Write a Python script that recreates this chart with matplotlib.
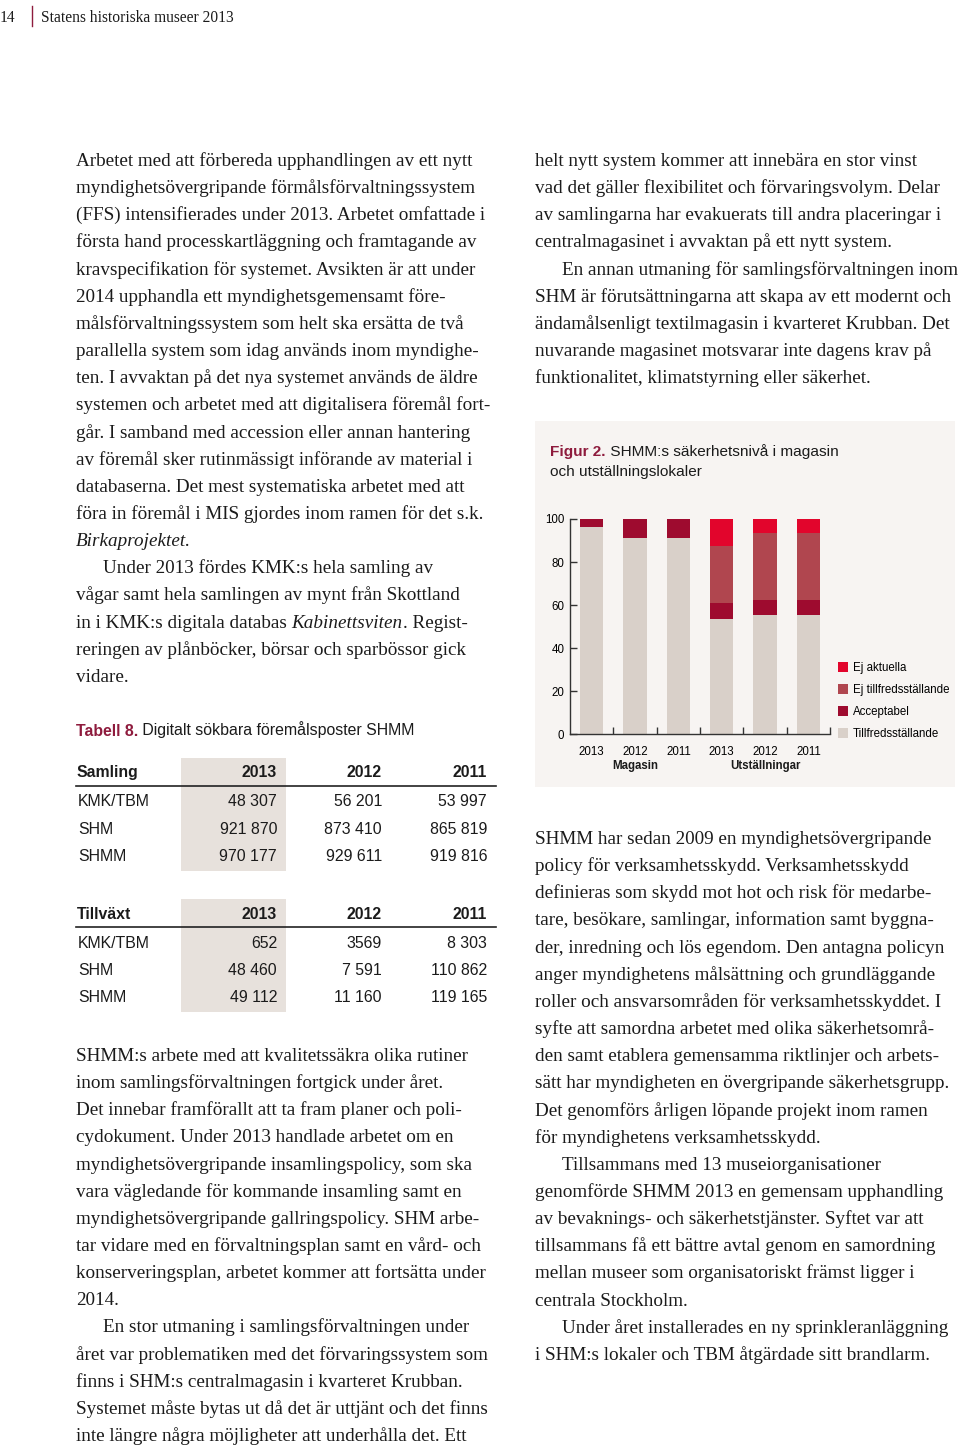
import matplotlib
matplotlib.use("Agg")
import matplotlib.pyplot as plt
from matplotlib.patches import Rectangle

# --- chart data, percent of premises ---
bar_years = ["2013", "2012", "2011", "2013", "2012", "2011"]
groups = ["Magasin", "Utställningar"]
tillfreds = [96.4, 91.3, 91.3, 53.5, 55.4, 55.4]
acceptabel = [3.6, 8.7, 8.7, 7.3, 7.0, 7.0]
ej_tillfreds = [0.0, 0.0, 0.0, 26.5, 31.2, 31.2]
ej_aktuella = [0.0, 0.0, 0.0, 12.7, 6.4, 6.4]
series_names = ["Tillfredsställande", "Acceptabel", "Ej tillfredsställande", "Ej aktuella"]
series_colors = ["#d9d0c9", "#9e0b2f", "#b0464f", "#e2052c"]

# --- table 8 data ---
table_years = ["2013", "2012", "2011"]
table_rows = ["KMK/TBM", "SHM", "SHMM"]
samling = [["48 307", "56 201", "53 997"],
           ["921 870", "873 410", "865 819"],
           ["970 177", "929 611", "919 816"]]
tillvaxt = [["652", "3569", "8 303"],
            ["48 460", "7 591", "110 862"],
            ["49 112", "11 160", "119 165"]]

# --- body text (">" = paragraph indent, _ = italic) ---
left_top = [
    "Arbetet med att förbereda upphandlingen av ett nytt",
    "myndighetsövergripande förmålsförvaltningssystem",
    "(FFS) intensifierades under 2013. Arbetet omfattade i",
    "första hand processkartläggning och framtagande av",
    "kravspecifikation för systemet. Avsikten är att under",
    "2014 upphandla ett myndighetsgemensamt före-",
    "målsförvaltningssystem som helt ska ersätta de två",
    "parallella system som idag används inom myndighe-",
    "ten. I avvaktan på det nya systemet används de äldre",
    "systemen och arbetet med att digitalisera föremål fort-",
    "går. I samband med accession eller annan hantering",
    "av föremål sker rutinmässigt införande av material i",
    "databaserna. Det mest systematiska arbetet med att",
    "föra in föremål i MIS gjordes inom ramen för det s.k.",
    "_Birkaprojektet._",
    ">Under 2013 fördes KMK:s hela samling av",
    "vågar samt hela samlingen av mynt från Skottland",
    "in i KMK:s digitala databas _Kabinettsviten_. Regist-",
    "reringen av plånböcker, börsar och sparbössor gick",
    "vidare.",
]
left_bottom = [
    "SHMM:s arbete med att kvalitetssäkra olika rutiner",
    "inom samlingsförvaltningen fortgick under året.",
    "Det innebar framförallt att ta fram planer och poli-",
    "cydokument. Under 2013 handlade arbetet om en",
    "myndighetsövergripande insamlingspolicy, som ska",
    "vara vägledande för kommande insamling samt en",
    "myndighetsövergripande gallringspolicy. SHM arbe-",
    "tar vidare med en förvaltningsplan samt en vård- och",
    "konserveringsplan, arbetet kommer att fortsätta under",
    "2014.",
    ">En stor utmaning i samlingsförvaltningen under",
    "året var problematiken med det förvaringssystem som",
    "finns i SHM:s centralmagasin i kvarteret Krubban.",
    "Systemet måste bytas ut då det är uttjänt och det finns",
    "inte längre några möjligheter att underhålla det. Ett",
]
right_top = [
    "helt nytt system kommer att innebära en stor vinst",
    "vad det gäller flexibilitet och förvaringsvolym. Delar",
    "av samlingarna har evakuerats till andra placeringar i",
    "centralmagasinet i avvaktan på ett nytt system.",
    ">En annan utmaning för samlingsförvaltningen inom",
    "SHM är förutsättningarna att skapa av ett modernt och",
    "ändamålsenligt textilmagasin i kvarteret Krubban. Det",
    "nuvarande magasinet motsvarar inte dagens krav på",
    "funktionalitet, klimatstyrning eller säkerhet.",
]
right_bottom = [
    "SHMM har sedan 2009 en myndighetsövergripande",
    "policy för verksamhetsskydd. Verksamhetsskydd",
    "definieras som skydd mot hot och risk för medarbe-",
    "tare, besökare, samlingar, information samt byggna-",
    "der, inredning och lös egendom. Den antagna policyn",
    "anger myndighetens målsättning och grundläggande",
    "roller och ansvarsområden för verksamhetsskyddet. I",
    "syfte att samordna arbetet med olika säkerhetsområ-",
    "den samt etablera gemensamma riktlinjer och arbets-",
    "sätt har myndigheten en övergripande säkerhetsgrupp.",
    "Det genomförs årligen löpande projekt inom ramen",
    "för myndighetens verksamhetsskydd.",
    ">Tillsammans med 13 museiorganisationer",
    "genomförde SHMM 2013 en gemensam upphandling",
    "av bevaknings- och säkerhetstjänster. Syftet var att",
    "tillsammans få ett bättre avtal genom en samordning",
    "mellan museer som organisatoriskt främst ligger i",
    "centrala Stockholm.",
    ">Under året installerades en ny sprinkleranläggning",
    "i SHM:s lokaler och TBM åtgärdade sitt brandlarm.",
]

SERIF = "Liberation Serif"
SANS = "Liberation Sans"
MAROON = "#8e1b3d"
INK = "#1b1b1b"
BODY = 13.75
TAB = 11.4

fig = plt.figure(figsize=(9.6, 14.48), dpi=100)
page = fig.add_axes([0, 0, 1, 1])
page.set_xlim(0, 960)
page.set_ylim(1448, 0)
page.axis("off")


def put_line(x, y, line, size=BODY):
    parts = line.split("_")
    prev = None
    for i, part in enumerate(parts):
        if not part:
            continue
        style = "italic" if i % 2 else "normal"
        if prev is None:
            prev = page.text(x, y, part, family=SERIF, style=style, size=size,
                             color=INK, va="baseline", ha="left")
        else:
            prev = page.annotate(part, xy=(1, 0), xycoords=prev, family=SERIF,
                                 style=style, size=size, color=INK,
                                 va="bottom", ha="left")


def put_block(lines, x, y0, step=27.15, indent=27):
    for k, line in enumerate(lines):
        xx = x
        if line.startswith(">"):
            line = line[1:]
            xx = x + indent
        put_line(xx, y0 + k * step, line)


put_block(left_top, 76, 166)
put_block(left_bottom, 76, 1061)
put_block(right_top, 535, 166)
put_block(right_bottom, 535, 844)

# header
page.text(0, 22, "14", family=SERIF, size=11.2, color=INK, va="baseline")
page.plot([32, 32], [6, 26], color=MAROON, lw=1)
page.text(41, 22, "Statens historiska museer 2013", family=SERIF, size=11.2,
          color=INK, va="baseline")

# --- table 8 ---
t = page.text(76, 735.5, "Tabell 8.", family=SANS, weight="bold", size=TAB,
              color=MAROON, va="baseline")
page.annotate(" Digitalt sökbara föremålsposter SHMM", xy=(1, 0), xycoords=t,
              family=SANS, size=TAB, color=INK, va="bottom")

col_right = [277, 382, 487]


def draw_table(title, rows, top, head_y, rule_y, row_ys):
    page.add_patch(Rectangle((181, top), 105, row_ys[-1] + 14 - top,
                             facecolor="#e7e1dc", edgecolor="none", zorder=0))
    page.text(77, head_y, title, family=SANS, weight="bold", size=TAB,
              color=INK, va="center")
    for xr, yr in zip(col_right, table_years):
        page.text(xr, head_y, yr, family=SANS, weight="bold", size=TAB,
                  color=INK, va="center", ha="right")
    page.plot([76, 496], [rule_y, rule_y], color="#222222", lw=1.2)
    for yy, name, vals in zip(row_ys, table_rows, rows):
        page.text(78, yy, name, family=SANS, size=TAB, color=INK, va="center")
        for xr, v in zip(col_right, vals):
            page.text(xr, yy, v, family=SANS, size=TAB, color=INK,
                      va="center", ha="right")


draw_table("Samling", samling, 757.5, 772.5, 786, [802, 829, 856.5])
draw_table("Tillväxt", tillvaxt, 899, 914.5, 927, [943.5, 970.5, 997.5])

# --- figure 2 panel ---
page.add_patch(Rectangle((535, 421), 420, 366, facecolor="#f7f4f2",
                         edgecolor="none", zorder=0))
f = page.text(550, 456, "Figur 2.", family=SANS, weight="bold", size=11.1,
              color=MAROON, va="baseline")
page.annotate(" SHMM:s säkerhetsnivå i magasin", xy=(1, 0), xycoords=f,
              family=SANS, size=11.1, color=INK, va="bottom")
page.text(550, 476, "och utställningslokaler", family=SANS, size=11.1,
          color=INK, va="baseline")

W, H = 960, 1448
ax = fig.add_axes([570 / W, (H - 734.3) / H, 260 / W, 215.3 / H])
ax.set_facecolor("none")
xs = list(range(len(bar_years)))
bottom = [0.0] * len(xs)
for name, vals, col in zip(series_names,
                           [tillfreds, acceptabel, ej_tillfreds, ej_aktuella],
                           series_colors):
    ax.bar(xs, vals, width=0.54, bottom=bottom, color=col, label=name,
           linewidth=0)
    bottom = [b + v for b, v in zip(bottom, vals)]

ax.set_xlim(-0.5, 5.5)
ax.set_ylim(0, 100)
ax.set_yticks(range(0, 101, 20))
ax.set_xticks(xs)
ax.set_xticklabels(bar_years)
ax.set_xticks([x + 0.5 for x in xs], minor=True)
for s in ["top", "right"]:
    ax.spines[s].set_visible(False)
for s in ["left", "bottom"]:
    ax.spines[s].set_color("#333333")
    ax.spines[s].set_linewidth(1.0)
ax.tick_params(axis="y", direction="in", length=5, width=1, color="#333333",
               labelsize=8.3, pad=4, labelfontfamily=SANS)
ax.tick_params(axis="x", which="major", length=0, labelsize=8.3, pad=8.5,
               labelfontfamily=SANS)
ax.tick_params(axis="x", which="minor", direction="in", length=5, width=1,
               color="#333333")

for gname, gx in zip(groups, [1, 4]):
    ax.text(gx, -14.6, gname, family=SANS, weight="bold", size=8.3, color=INK,
            ha="center", va="center", clip_on=False)

handles, labels = ax.get_legend_handles_labels()
fig.legend(handles[::-1], labels[::-1], loc="upper left",
           bbox_to_anchor=(837.5 / W, (H - 662) / H), frameon=False,
           prop={"family": SANS, "size": 8.3}, handlelength=0.9,
           handleheight=0.9, handletextpad=0.45, labelspacing=0.86,
           borderpad=0, borderaxespad=0)

fig.savefig("out.png", dpi=100, facecolor="white")
